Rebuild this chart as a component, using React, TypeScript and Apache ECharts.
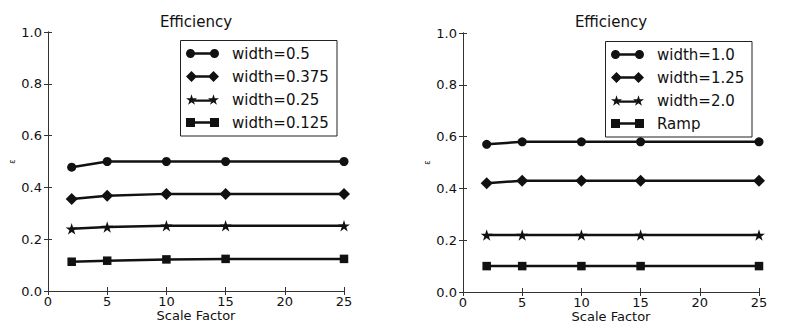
import React, { useEffect, useRef } from "react";
import * as echarts from "echarts";

const scaleFactors = [2, 5, 10, 15, 25];

const leftNames = ["width=0.5", "width=0.375", "width=0.25", "width=0.125"];
const leftW050 = [0.478, 0.5, 0.5, 0.5, 0.5];
const leftW0375 = [0.355, 0.368, 0.375, 0.375, 0.375];
const leftW025 = [0.24, 0.247, 0.252, 0.252, 0.252];
const leftW0125 = [0.113, 0.117, 0.122, 0.124, 0.124];

const rightNames = ["width=1.0", "width=1.25", "width=2.0", "Ramp"];
const rightW10 = [0.57, 0.58, 0.58, 0.58, 0.58];
const rightW125 = [0.42, 0.43, 0.43, 0.43, 0.43];
const rightW20 = [0.22, 0.22, 0.22, 0.22, 0.22];
const rightRamp = [0.1, 0.1, 0.1, 0.1, 0.1];

const xTicks = [0, 5, 10, 15, 20, 25];
const yTicks = [0, 0.2, 0.4, 0.6, 0.8, 1.0];

const FONT = "DejaVu Sans";
const INK = "#111";

const STAR =
  "path://M0,-1 L0.2245,-0.309 L0.951,-0.309 L0.363,0.118 L0.588,0.809 L0,0.382 L-0.588,0.809 L-0.363,0.118 L-0.951,-0.309 L-0.2245,-0.309 Z";

function starPts(cx: number, cy: number, R: number) {
  const r = R * 0.382;
  const pts: string[] = [];
  for (let i = 0; i < 10; i++) {
    const a = (i * 36 * Math.PI) / 180;
    const rad = i % 2 === 0 ? R : r;
    pts.push(`${(cx + rad * Math.sin(a)).toFixed(2)},${(cy - rad * Math.cos(a)).toFixed(2)}`);
  }
  return "M" + pts.join(" L") + " Z";
}

const ICON_CIRCLE =
  "path://M0,4.5 A4.5,4.5 0 1,1 9,4.5 A4.5,4.5 0 1,1 0,4.5 Z M24,4.5 A4.5,4.5 0 1,1 33,4.5 A4.5,4.5 0 1,1 24,4.5 Z M8,3.3 L25,3.3 L25,5.7 L8,5.7 Z";
const ICON_DIAMOND =
  "path://M0,5.5 L5.5,0 L11,5.5 L5.5,11 Z M22,5.5 L27.5,0 L33,5.5 L27.5,11 Z M9.5,4.3 L23.5,4.3 L23.5,6.7 L9.5,6.7 Z";
const R_STAR = 5.8;
const ICON_STAR =
  "path://" +
  starPts(5.5, R_STAR, R_STAR) +
  " " +
  starPts(27.5, R_STAR, R_STAR) +
  ` M8,${(R_STAR - 0.6).toFixed(2)} L25,${(R_STAR - 0.6).toFixed(2)} L25,${(R_STAR + 1.8).toFixed(2)} L8,${(R_STAR + 1.8).toFixed(2)} Z`;
const ICON_SQUARE =
  "path://M0,0 L9,0 L9,9 L0,9 Z M24,0 L33,0 L33,9 L24,9 Z M8,3.3 L25,3.3 L25,5.7 L8,5.7 Z";

const symbols: any[] = [
  { symbol: "circle", size: 9, icon: ICON_CIRCLE },
  { symbol: "diamond", size: 12, icon: ICON_DIAMOND },
  { symbol: STAR, size: [12, 11.5], icon: ICON_STAR },
  { symbol: "rect", size: 8.5, icon: ICON_SQUARE },
];

function makeSeries(name: string, vals: number[], idx: number, axis: number) {
  const s = symbols[idx];
  return {
    type: "line",
    name,
    xAxisIndex: axis,
    yAxisIndex: axis,
    data: scaleFactors.map((x, i) => [x, vals[i]]),
    symbol: s.symbol,
    symbolSize: s.size,
    showAllSymbol: true,
    clip: true,
    lineStyle: { color: INK, width: 2.5 },
    itemStyle: { color: INK, borderWidth: 0 },
    emphasis: { disabled: true },
  };
}

function axesFor(gridIndex: number) {
  const axisLine = { show: true, lineStyle: { color: "#333", width: 1 } };
  const tick = { show: true, inside: true, length: 4, lineStyle: { color: "#333", width: 1 } };
  const x = [
    {
      type: "value",
      gridIndex,
      position: "bottom",
      min: xTicks[0],
      max: xTicks[xTicks.length - 1],
      interval: xTicks[1] - xTicks[0],
      axisLine,
      axisTick: tick,
      splitLine: { show: false },
      axisLabel: { color: INK, fontSize: 13, fontFamily: FONT, margin: 4 },
      name: "Scale Factor",
      nameLocation: "middle",
      nameGap: 18,
      nameMoveOverlap: false,
      nameTextStyle: { color: INK, fontSize: 13, fontFamily: FONT },
    },
    {
      type: "value",
      gridIndex,
      position: "top",
      min: xTicks[0],
      max: xTicks[xTicks.length - 1],
      interval: xTicks[1] - xTicks[0],
      axisLine,
      axisTick: tick,
      splitLine: { show: false },
      axisLabel: { show: false },
    },
  ];
  const y = [
    {
      type: "value",
      gridIndex,
      position: "left",
      min: yTicks[0],
      max: yTicks[yTicks.length - 1],
      interval: 0.2,
      axisLine,
      axisTick: tick,
      splitLine: { show: false },
      axisLabel: {
        color: INK,
        fontSize: 13,
        fontFamily: FONT,
        margin: 6,
        formatter: (v: number) => v.toFixed(1),
      },
      name: "ε",
      nameLocation: "middle",
      nameGap: 32,
      nameMoveOverlap: false,
      nameRotate: 90,
      nameTextStyle: { color: INK, fontSize: 8, fontFamily: FONT },
    },
    {
      type: "value",
      gridIndex,
      position: "right",
      min: yTicks[0],
      max: yTicks[yTicks.length - 1],
      interval: 0.2,
      axisLine,
      axisTick: tick,
      splitLine: { show: false },
      axisLabel: { show: false },
    },
  ];
  return { x, y };
}

function legendFor(names: string[], left: number, top: number) {
  return {
    orient: "vertical",
    left,
    top,
    align: "left",
    padding: 0,
    itemGap: 8,
    itemWidth: 33,
    itemHeight: 11,
    symbolKeepAspect: true,
    borderWidth: 0,
    selectedMode: false,
    z: 5,
    textStyle: { color: INK, fontSize: 15, fontFamily: FONT, padding: [0, 0, 0, 8] },
    data: names.map((n, i) => ({ name: n, icon: symbols[i].icon, itemStyle: { color: INK, borderWidth: 0 } })),
  };
}

export default function App() {
  const ref = useRef<HTMLDivElement>(null);
  useEffect(() => {
    if (!ref.current) return;
    const chart = echarts.init(ref.current, undefined, { renderer: "svg" });
    const a0 = axesFor(0);
    const a1 = axesFor(1);
    const xAxis = [a0.x[0], a0.x[1], a1.x[0], a1.x[1]];
    const yAxis = [a0.y[0], a0.y[1], a1.y[0], a1.y[1]];
    const option: any = {
      animation: false,
      backgroundColor: "#fff",
      title: [
        {
          text: "Efficiency",
          left: 196,
          top: 14,
          padding: 0,
          textAlign: "center",
          textStyle: { color: INK, fontSize: 15, fontWeight: "normal", fontFamily: FONT },
        },
        {
          text: "Efficiency",
          left: 611,
          top: 14,
          padding: 0,
          textAlign: "center",
          textStyle: { color: INK, fontSize: 15, fontWeight: "normal", fontFamily: FONT },
        },
      ],
      grid: [
        { left: 48, top: 32, width: 296, height: 259, outerBoundsMode: "none", containLabel: false },
        { left: 463, top: 33, width: 296, height: 259, outerBoundsMode: "none", containLabel: false },
      ],
      xAxis,
      yAxis,
      graphic: [
        {
          type: "rect",
          z: 3,
          shape: { x: 180.5, y: 40.5, width: 156.5, height: 95.5 },
          style: { fill: "#fff", stroke: "#222", lineWidth: 1 },
        },
        {
          type: "rect",
          z: 3,
          shape: { x: 605.5, y: 41.5, width: 146.5, height: 95.5 },
          style: { fill: "#fff", stroke: "#222", lineWidth: 1 },
        },
      ],
      legend: [legendFor(leftNames, 186, 46), legendFor(rightNames, 611, 47)],
      series: [
        makeSeries(leftNames[0], leftW050, 0, 0),
        makeSeries(leftNames[1], leftW0375, 1, 0),
        makeSeries(leftNames[2], leftW025, 2, 0),
        makeSeries(leftNames[3], leftW0125, 3, 0),
        makeSeries(rightNames[0], rightW10, 0, 2),
        makeSeries(rightNames[1], rightW125, 1, 2),
        makeSeries(rightNames[2], rightW20, 2, 2),
        makeSeries(rightNames[3], rightRamp, 3, 2),
      ],
    };
    chart.setOption(option);
    return () => chart.dispose();
  }, []);
  return (
    <div
      ref={ref}
      style={{ position: "absolute", left: 0, top: 0, width: 797, height: 324, background: "#fff" }}
    />
  );
}
